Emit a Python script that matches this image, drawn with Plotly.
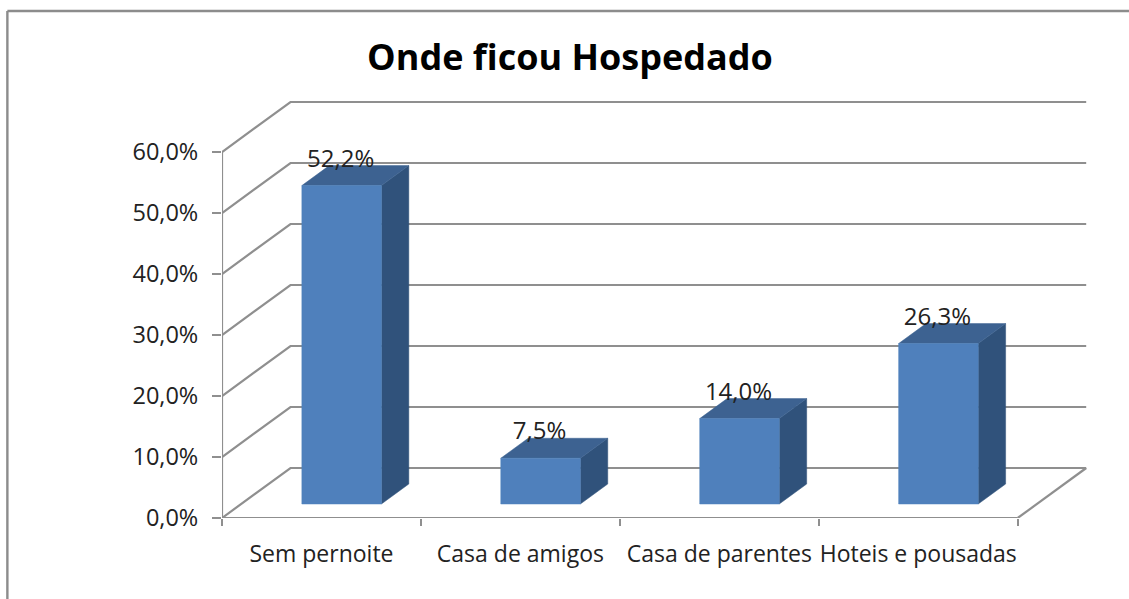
import plotly.graph_objects as go

title = "Onde ficou Hospedado"
categories = ["Sem pernoite", "Casa de amigos", "Casa de parentes", "Hoteis e pousadas"]
values = [52.2, 7.5, 14.0, 26.3]
y_ticks = [0, 10, 20, 30, 40, 50, 60]

FONT = "'Open Sans', sans-serif"
GRID = "#8f8f8f"
FRONT, SIDE, TOP = "#4f80bc", "#30527b", "#3d6291"
W, H = 1129, 599
L, R, T, B = 221.7, 34, 90, 81
CAT_PX, VAL_PX = 199.0, 6.1
x_max = (W - L - R) / CAT_PX
y_max = (H - T - B) / VAL_PX

# Oblique projection: a unit of depth shifts a point right and up, in data units
DX, DY = 68.5 / CAT_PX, 50 / VAL_PX
BAR_W, BAR_SHIFT, D0, D1 = 0.40, 0.005, 0.28, 0.68


def proj(u, v, d):
    return u + DX * d, v + DY * d


def poly(points, color):
    xs, ys = zip(*[proj(*p) for p in points])
    return go.Scatter(x=list(xs) + [xs[0]], y=list(ys) + [ys[0]], mode="lines",
                      fill="toself", fillcolor=color, line=dict(color=color, width=0.5),
                      hoverinfo="skip", showlegend=False)


def line(points, width=2.2):
    xs, ys = zip(*[proj(*p) for p in points])
    return go.Scatter(x=xs, y=ys, mode="lines", line=dict(color=GRID, width=width),
                      hoverinfo="skip", showlegend=False, cliponaxis=False)


n = len(categories)
fig = go.Figure()

for t in y_ticks:
    fig.add_trace(line([(0, t, 0), (0, t, 1), (n, t, 1)]))
fig.add_trace(line([(n, 0, 0), (n, 0, 1)]))
fig.add_trace(line([(0, 0, 0), (0, y_ticks[-1], 0)]))
fig.add_trace(line([(0, 0, 0), (n, 0, 0)]))

for i, v in enumerate(values):
    c = i + 0.5 + BAR_SHIFT
    a, b = c - BAR_W / 2, c + BAR_W / 2
    fig.add_trace(poly([(b, 0, D0), (b, 0, D1), (b, v, D1), (b, v, D0)], SIDE))
    fig.add_trace(poly([(a, v, D0), (b, v, D0), (b, v, D1), (a, v, D1)], TOP))
    fig.add_trace(poly([(a, 0, D0), (b, 0, D0), (b, v, D0), (a, v, D0)], FRONT))

label_x = [proj(i + 0.5, v, D0)[0] for i, v in enumerate(values)]
label_y = [proj(i + 0.5, v + 4.1, D0)[1] for i, v in enumerate(values)]
fig.add_trace(go.Scatter(x=label_x, y=label_y, mode="text",
                         text=[f"{v:.1f}".replace(".", ",") + "%" for v in values],
                         textposition="middle center",
                         textfont=dict(family=FONT, size=24, color="#222222"),
                         hoverinfo="skip", showlegend=False, cliponaxis=False))

fx = lambda px: (px - L) / (W - L - R)
fy = lambda py: (H - B - py) / (H - T - B)
frame = dict(type="line", xref="paper", yref="paper", line=dict(color="#8c8c8c", width=2.4))

fig.update_layout(
    width=W, height=H, autosize=False,
    margin=dict(l=L, r=R, t=T, b=B, pad=0),
    paper_bgcolor="white", plot_bgcolor="white", showlegend=False,
    title=dict(text=f"<b>{title}</b>", x=570 / W, y=1 - 57 / H, xanchor="center", yanchor="middle",
               xref="container", yref="container",
               font=dict(family=FONT, size=36, color="#000000")),
    xaxis=dict(range=[0, x_max], showgrid=False, zeroline=False, showline=False,
               tickmode="array", tickvals=[i + 0.5 for i in range(n)], ticktext=categories,
               ticks="", ticklabelstandoff=20,
               tickfont=dict(family=FONT, size=23, color="#222222"),
               minor=dict(tickmode="array", tickvals=list(range(n + 1)), ticks="outside",
                          ticklen=7, tickwidth=2.2, tickcolor=GRID, showgrid=False)),
    yaxis=dict(range=[0, y_max], showgrid=False, zeroline=False, showline=False,
               tickmode="array", tickvals=y_ticks,
               ticktext=[f"{t:.1f}".replace(".", ",") + "%" for t in y_ticks],
               ticks="outside", ticklen=9, tickwidth=2.2, tickcolor=GRID, ticklabelstandoff=9,
               tickfont=dict(family=FONT, size=23.5, color="#222222")),
    shapes=[
        dict(frame, x0=fx(7), x1=fx(7), y0=fy(11), y1=fy(599)),
        dict(frame, x0=fx(7), x1=fx(1129), y0=fy(11), y1=fy(11)),
    ],
)

fig.write_html("out.html", config={"displayModeBar": False},
               post_script="document.body.style.margin='0';document.body.style.overflow='hidden';")
